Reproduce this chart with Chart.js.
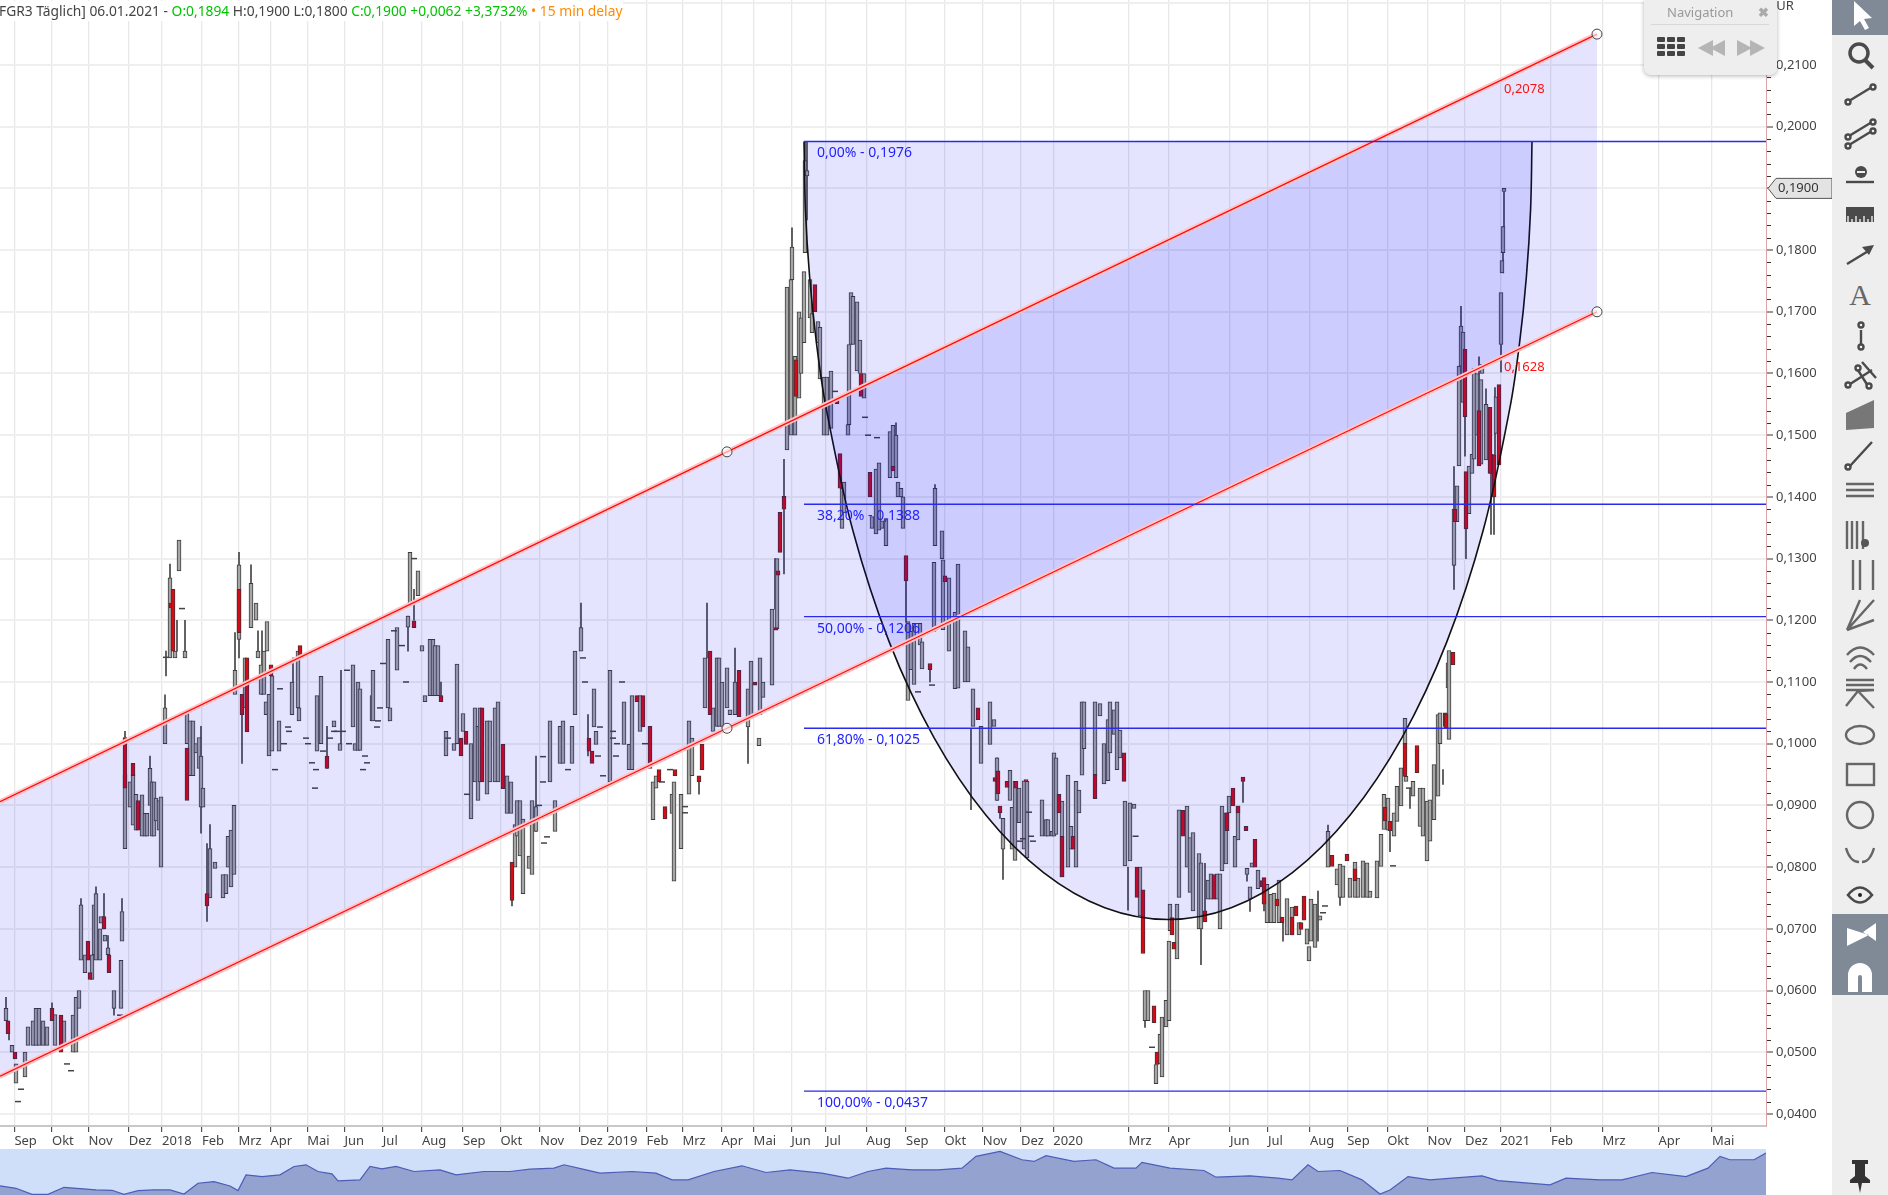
<!DOCTYPE html>
<html>
<head>
<meta charset="utf-8">
<title>FGR3 Täglich</title>
<script src="https://cdn.jsdelivr.net/npm/chart.js@4/dist/chart.umd.js"></script>
<style>
  html, body { margin: 0; padding: 0; background: #fff; overflow: hidden; width: 1888px; height: 1195px; }
  body { position: relative; font-family: "Noto Sans", sans-serif; }
  #mainChart { position: absolute; left: 0; top: 0; }
  #miniChart { position: absolute; left: 0; top: 1149px; }
  #header { position: absolute; left: -1px; top: 1px; height: 20px; line-height: 20px; padding-right: 1px; background: #fff; font-size: 13.8px; color: #444; white-space: pre; }
  #header .g { color: #00c400; }
  #header .o { color: #ff8c00; }
  #unit { position: absolute; left: 1769px; top: -5px; font-size: 13px; color: #444; line-height: 20px; }
  #nav { position: absolute; left: 1644px; top: 0; width: 133px; height: 75px; background: #eee; border-radius: 0 0 7px 7px; box-shadow: 0 1px 4px rgba(0,0,0,.3); }
  #nav .t { position: absolute; left: 23px; top: 3px; font-size: 13px; color: #999; }
  #nav .x { position: absolute; left: 114px; top: 3px; font-size: 13px; font-weight: bold; color: #aaa; }
  #nav hr { position: absolute; left: 7px; top: 24px; width: 118px; margin: 0; border: 0; border-top: 1px solid #d8d8d8; }
  #nav svg { position: absolute; left: 0; top: 30px; }
  #tools { position: absolute; left: 1832px; top: 0; }
</style>
</head>
<body>
<canvas id="mainChart" width="1832" height="1149"></canvas>
<canvas id="miniChart" width="1766" height="46"></canvas>
<div id="header">FGR3 Täglich] 06.01.2021 - <span class="g">O:0,1894</span> H:0,1900 L:0,1800 <span class="g">C:0,1900 +0,0062 +3,3732%</span> <span class="o">• 15 min delay</span></div>
<div id="unit">EUR</div>
<div id="nav">
  <div class="t">Navigation</div><div class="x">✖</div><hr>
  <svg width="133" height="40" fill="#444">
    <g><rect x="13" y="7" width="8" height="5" rx="1"/><rect x="23" y="7" width="8" height="5" rx="1"/><rect x="33" y="7" width="8" height="5" rx="1"/><rect x="13" y="14" width="8" height="5" rx="1"/><rect x="23" y="14" width="8" height="5" rx="1"/><rect x="33" y="14" width="8" height="5" rx="1"/><rect x="13" y="21" width="8" height="5" rx="1"/><rect x="23" y="21" width="8" height="5" rx="1"/><rect x="33" y="21" width="8" height="5" rx="1"/></g>
    <g fill="#b5b5b5"><path d="M54 18 L69 10 V26 Z"/><path d="M66 18 L81 10 V26 Z"/><path d="M93 10 L108 18 L93 26 Z"/><path d="M106 10 L121 18 L106 26 Z"/></g>
  </svg>
</div>
<svg id="tools" width="56" height="1195">
  <rect width="56" height="1195" fill="#eeeeee"/>
  <rect width="56" height="35" fill="#7f8a96"/>
  <rect y="914" width="56" height="81" fill="#7f8a96"/>
  <path d="M22 1 L22 26 L28 21 L33 30 L37 28 L32 19 L40 18 Z" fill="#fff"/>
  <g fill="none" stroke="#4a4a4a" stroke-width="2.4">
    <circle cx="27" cy="53" r="9" stroke-width="3.5"/><path d="M33 60 L41 68" stroke-width="4"/>
    <path d="M17 101 L40 87"/><circle cx="16" cy="102" r="2.5" fill="#eee"/><circle cx="41" cy="87" r="2.5" fill="#eee"/>
    <path d="M17 136 L40 122 M17 145 L40 131"/><circle cx="16" cy="137" r="2.5" fill="#eee"/><circle cx="41" cy="122" r="2.5" fill="#eee"/><circle cx="16" cy="146" r="2.5" fill="#eee"/><circle cx="41" cy="131" r="2.5" fill="#eee"/>
    <path d="M14 182 H42"/>
    <path d="M15 264 L38 250"/>
    <path d="M29 330 V345"/><circle cx="29" cy="325" r="2.5" fill="#eee"/><circle cx="29" cy="347" r="2.5" fill="#eee"/>
    <path d="M15 386 L40 370 M24 367 L36 386 M30 362 L44 378"/><circle cx="16" cy="385" r="2.5" fill="#eee"/><circle cx="37" cy="386" r="2.5" fill="#eee"/><circle cx="26" cy="368" r="2.5" fill="#eee"/>
    <path d="M18 466 L40 442"/><circle cx="16" cy="467" r="2.5" fill="#eee"/>
    <path d="M14 484 H42 M14 490 H42 M14 496 H42" stroke="#666"/>
    <path d="M15 521 V549 M20 521 V549 M25 521 V549 M31 521 V549" stroke="#666"/>
    <path d="M21 560 V590 M28 560 V590 M41 560 V590" stroke="#666"/>
    <path d="M15 630 L42 600 M15 630 L42 620 M15 630 L28 600" stroke="#666"/>
    <path d="M15 655 Q28 640 42 655 M18 662 Q28 650 39 662 M22 669 Q28 660 35 669" stroke="#666"/>
    <path d="M14 680 H42 M14 685 H42 M14 690 H42 M42 690 L26 691 L42 708 M26 691 L14 706" stroke="#666"/>
    <ellipse cx="28" cy="735" rx="14" ry="9" stroke="#666"/>
    <rect x="15" y="764" width="27" height="21" stroke="#666"/>
    <circle cx="28" cy="815" r="13" stroke="#666"/>
    <path d="M14 848 Q18 862 27 862 M42 848 Q38 862 30 862" stroke="#666"/>
    <path d="M16 895 Q28 880 40 895 Q28 910 16 895 Z" stroke-width="2.6"/>
  </g>
  <circle cx="29" cy="172" r="6" fill="#4a4a4a"/><rect x="25" y="171" width="8" height="2" fill="#eee"/>
  <path d="M14 207 H42 V222 H14 Z" fill="#4a4a4a"/>
  <path d="M16 222 V216 M20 222 V219 M24 222 V216 M28 222 V219 M32 222 V216 M36 222 V219 M40 222 V216" stroke="#eee" stroke-width="1.4"/>
  <path d="M30 247 L42 245 L37 255 Z" fill="#4a4a4a"/>
  <text x="28" y="305" text-anchor="middle" font-family="Liberation Serif" font-size="30" fill="#666">A</text>
  <path d="M14 413 L42 400 V428 L14 430 Z" fill="#777"/>
  <circle cx="33" cy="543" r="4" fill="#555"/><circle cx="28" cy="895" r="2" fill="#222"/>
  <path d="M15 928 V946 L37 935 Z M44 923 V941 L31 932 Z" fill="#fff" stroke="none"/>
  <path d="M16 992 V975 A12 12 0 0 1 40 975 V992 H30 V977 A2 2 0 0 0 26 977 V992 Z" fill="#fff"/>
  <path d="M20 1160 H36 V1164 H33 V1176 L38 1180 V1183 H30 L28 1193 L26 1183 H18 V1180 L23 1176 V1164 H20 Z" fill="#333"/>
</svg>

<script>
// month ticks, 1 unit on the time axis is one session slot of the chart
const monthLabels = ['Sep','Okt','Nov','Dez','2018','Feb','Mrz','Apr','Mai','Jun','Jul','Aug','Sep','Okt','Nov','Dez','2019','Feb','Mrz','Apr','Mai','Jun','Jul','Aug','Sep','Okt','Nov','Dez','2020','Mrz','Apr','Jun','Jul','Aug','Sep','Okt','Nov','Dez','2021','Feb','Mrz','Apr','Mai'];
const monthTicks = [7.2,26,44.2,64.4,81,101,119.2,135.2,153.6,172.2,191.4,211,231.5,250.2,270,290,303.8,323.2,341.2,360.7,376.8,395.6,413,433.3,453,472.2,491.4,510.5,526.6,564.2,584.4,615,634,655,673.6,693.6,713.8,732.5,750.2,775.5,801.2,829.2,856];

const priceTicks = [0.04,0.05,0.06,0.07,0.08,0.09,0.10,0.11,0.12,0.13,0.14,0.15,0.16,0.17,0.18,0.19,0.20,0.21,0.22];
const minorTicks = [0.042,0.044,0.046,0.048,0.052,0.054,0.056,0.058,0.062,0.064,0.066,0.068,0.072,0.074,0.076,0.078,0.082,0.084,0.086,0.088,0.092,0.094,0.096,0.098,0.102,0.104,0.106,0.108,0.112,0.114,0.116,0.118,0.122,0.124,0.126,0.128,0.132,0.134,0.136,0.138,0.142,0.144,0.146,0.148,0.152,0.154,0.156,0.158,0.162,0.164,0.166,0.168,0.172,0.174,0.176,0.178,0.182,0.184,0.186,0.188,0.192,0.194,0.196,0.198,0.202,0.204,0.206,0.208,0.212,0.214,0.216,0.218];
const lastPrice = 0.19;

// rising sessions
const upDay = [
3,6,8,12.5,14,16.5,18,19.5,21.5,23.5,
27.5,32,36.5,38,39.5,40.5,42.5,46,47,48,
50,50.5,52.5,54,57,60.5,61,62.5,65,66.5,
68,71,72.5,73.5,75,76,77,78,79.5,80.5,
82.5,85,87.5,89.5,92.5,93.5,95,96.5,98,99.5,
100.5,101.5,105,107.5,111.5,113,114,115.5,117,117.5,
119.5,122.5,125.5,128,129,130.5,132,133,133.5,134.5,
136,139.5,146,149,149.5,158.5,160.5,167,170,176.5,
177.5,179,180,186,186.5,194,195,198.5,204,205,
209,211,212.5,215,216.5,217.5,219,223,227,228.5,
231.5,235.5,237.5,239,240,243.5,245,247.5,249,253.5,
255.5,257.5,258.5,260,261.5,264.5,266,268,275,277.5,
280,281.5,286,287.5,290.5,297,298,305,312,314.5,
316,320,326.5,328,336,337,340.5,344.5,346,352.5,
356.5,358.5,359.5,361,363.5,365,367.5,374,375.5,379.5,
380,381.5,386,388.5,393.5,395.5,396,397.5,399.5,400.5,
402,402.5,403.5,405,406,409,410,412,413.5,415.5,
421,422,424,424.5,425.5,426.5,428.5,430,432,436,
438,439.5,441,443,445,446.5,448,449,450.5,451.5,
454,455.5,457,460,461,467,467.5,471,471.5,474.5,
477.5,479,482.5,484,486.5,490.5,495,497,498.5,501.5,
505,506,507.5,509.5,512,513.5,521,523,524,526,
527,528,531,534,535.5,538,539.5,541,542,547.5,
550,552,554,555,557,558.5,560,562.5,565,567,
570,572.5,574,578,580,581,583,584.5,585,588.5,
589.5,593.5,595,596.5,599.5,600.5,604,605.5,608.5,610,
611,613,614.5,617.5,619,623.5,625,626,629,633.5,
635.5,637,639.5,643.5,646,649.5,653.5,654.5,655.5,657.5,
660,664,668.5,670,671.5,675,677.5,679,681.5,683.5,
685,688.5,690.5,692,694,697,698.5,700.5,702.5,703,
706.5,710,711.5,713.5,715,717,719,720,724,724.5,
727,728.5,729.5,730.5,731.5,734.5,736,737,738.5,740.5,
741,743,745.5,748,750.5,751,751.5,752];
const upOpen = [
.0551,.05,.045,.046,.0511,.0511,.0511,.0511,.0511,.0511,
.0511,.0511,.05,.05,.0571,.0649,.0629,.0618,.0658,.0649,
.0649,.0709,.068,.0658,.0571,.0571,.068,.083,.0897,.0868,
.086,.085,.085,.085,.09,.085,.085,.0875,.086,.08,
.1,.1139,.1139,.128,.1139,.1,.0948,.0948,.0985,.096,
.0897,.0897,.075,.0798,.075,.0757,.08,.0768,.0788,.108,
.1169,.1058,.1188,.12,.1139,.108,.108,.1047,.115,.098,
.0988,.0988,.1047,.1058,.1037,.0988,.1,.1027,.0989,.1027,
.0989,.0989,.0989,.1037,.1037,.1058,.1037,.1119,.1189,.1228,
.124,.115,.1068,.1078,.1078,.1078,.1078,.098,.0989,.1,
.102,.0878,.0938,.0908,.0938,.0918,.0938,.0938,.0938,.0887,
.0887,.08,.085,.0818,.0757,.0798,.0788,.0858,.0938,.0858,
.0968,.0968,.0968,.1047,.115,.1027,.0999,.0938,.0999,.0958,
.0958,.102,.0877,.0928,.0887,.0777,.083,.0918,.0948,.1058,
.102,.1028,.1028,.1028,.1058,.1047,.1047,.1027,.1042,.0997,
.1047,.1075,.1095,.1186,.1476,.15,.1752,.15,.156,.16,
.165,.1796,.192,.169,.1666,.165,.1591,.15,.15,.1511,
.1349,.1374,.15,.1517,.1647,.1647,.1604,.16,.156,.1349,
.134,.1346,.1349,.1321,.1431,.1445,.1431,.14,.14,.1349,
.107,.112,.1096,.116,.1121,.1182,.1321,.13,.1185,.115,
.1089,.109,.11,.11,.1028,.0968,.0999,.1028,.0908,.0829,
.0908,.0829,.0811,.0872,.0829,.0815,.085,.085,.085,.085,
.085,.0853,.0784,.08,.0829,.08,.0888,.0949,.0992,.095,
.1045,.0935,.094,.0985,.1015,.0958,.0977,.0802,.081,.0895,
.0721,.0551,.0551,.0449,.0481,.046,.0541,.0551,.0697,.0651,
.0751,.08,.0759,.0729,.07,.07,.0748,.0748,.0748,.07,
.0794,.0805,.0888,.08,.0844,.0788,.0748,.08,.0765,.071,
.071,.071,.071,.069,.069,.069,.0675,.0648,.068,.067,
.0714,.08,.0771,.0751,.0751,.0751,.0751,.0751,.0751,.0751,
.0751,.075,.0801,.0861,.086,.085,.0874,.0899,.1,.0939,
.0915,.0866,.085,.081,.0842,.0877,.0915,.1,.1091,.1007,
.1289,.136,.145,.1612,.1553,.1373,.1438,.1461,.15,.1453,
.16,.146,.1438,.1503,.1647,.1763,.1796,.1895];
const upClose = [
.0571,.0511,.0481,.05,.0541,.0551,.0571,.0571,.0551,.0541,
.0561,.0551,.056,.0589,.06,.0739,.0658,.0658,.0739,.0757,
.07,.072,.069,.0669,.06,.0649,.0728,.095,.0938,.095,
.0918,.0917,.0887,.0887,.096,.0938,.0938,.0912,.0908,.0914,
.1058,.1269,.115,.133,.115,.1049,.1037,.1037,.1,.101,
.098,.0928,.083,.0808,.0788,.0788,.085,.086,.09,.1119,
.129,.1139,.126,.1228,.115,.1128,.115,.1068,.1198,.108,
.111,.1037,.11,.115,.1058,.1078,.1109,.1037,.1,.1128,
.1,.11,.1089,.1078,.1119,.1169,.1058,.1188,.1207,.131,
.128,.1159,.1078,.1169,.1169,.1159,.1159,.102,.1,.1129,
.1049,.1,.1058,.1028,.1058,.1037,.1037,.1058,.1068,.0948,
.0938,.0869,.0908,.0908,.0878,.0818,.0908,.0898,.1037,.0908,
.1028,.1037,.1028,.115,.1188,.1089,.102,.1119,.1068,.0999,
.1078,.1078,.0938,.0948,.0918,.0938,.0918,.1037,.1009,.1139,
.1058,.1139,.1139,.11,.1123,.1055,.11,.1089,.1134,.1009,
.1139,.11,.1218,.13,.174,.1752,.1805,.1628,.17,.169,
.1765,.1945,.1929,.1752,.1697,.1684,.1675,.1594,.1594,.1604,
.1414,.1424,.1517,.1647,.1731,.1725,.1716,.1654,.16,.1368,
.1445,.1455,.1361,.1365,.1506,.1516,.15,.1424,.1414,.14,
.1198,.1182,.1195,.1195,.1165,.1294,.1414,.1345,.1298,.1269,
.1213,.1291,.1183,.1157,.1089,.1028,.1068,.1039,.0977,.0879,
.0957,.0897,.0939,.0928,.094,.0939,.0909,.0877,.0877,.0858,
.0985,.0977,.0907,.0949,.0866,.0939,.0925,.1068,.1068,.1068,
.1065,.1,.1039,.1068,.1055,.1068,.1022,.0907,.0904,.0902,
.08,.06,.06,.048,.0529,.0557,.0584,.068,.074,.074,
.0893,.0899,.0848,.0856,.0822,.0807,.0779,.0789,.0789,.0789,
.0899,.0888,.0915,.085,.0899,.0798,.0768,.0807,.0795,.0772,
.0756,.0758,.0779,.0749,.0735,.071,.07,.0671,.0748,.074,
.0721,.0858,.0797,.0805,.0802,.0782,.0808,.0782,.081,.0807,
.0761,.081,.0853,.0918,.0912,.0888,.0931,.0961,.1041,.0947,
.0939,.0928,.0928,.0907,.0909,.0966,.1047,.105,.1131,.1151,
.138,.1418,.1612,.1677,.1667,.145,.1469,.1608,.16,.159,
.1615,.155,.1469,.1562,.1731,.1783,.1838,.19];

// falling sessions
const downDay = [
4,7.5,26,30.5,44,45,52,54.5,62.5,66.5,
69,85.5,86.5,93.5,103.5,119.5,121,123.5,135.5,150,
163.5,207,220.5,230.5,233,241,251.5,256,294.5,296,
318.5,321.5,325,329.5,332.5,337.5,349.5,351,355,369.5,
377.5,388,389,390,392,398,407.5,418.5,420,430.5,
435,446.5,453,465,472.5,489,497.5,499,500,503.5,
508,513,529.5,531,536.5,547.5,562,568.5,571.5,577,
578.5,586,587,591.5,602.5,607,613.5,616.5,619,621.5,
623,627.5,631,632,638.5,641,646,648,650.5,652,
666,673.5,677.5,692.5,695,702.5,708.5,722.5,723,726.5,
727.5,732.5,733,739.5,745,747,749.5];
const downOpen = [
.0551,.05,.0571,.056,.068,.0629,.072,.0658,.101,.0968,
.0908,.1228,.125,.0993,.0757,.125,.108,.1139,.1128,.1159,
.098,.1199,.1078,.1009,.102,.1058,.0999,.0808,.1009,.0988,
.1078,.1078,.1028,.0958,.0898,.0958,.0948,.0999,.115,.1119,
.11,.1188,.128,.1375,.1401,.1622,.1744,.156,.147,.16,
.144,.145,.1305,.113,.1272,.1058,.0945,.0956,.0899,.0939,
.0939,.0942,.0918,.085,.085,.095,.0985,.08,.0763,.0575,
.05,.0718,.0678,.0892,.0729,.0788,.0888,.0928,.0899,.0946,
.0866,.0845,.0778,.0783,.0748,.0719,.0719,.0737,.071,.0753,
.0819,.0821,.0797,.0897,.0874,.1,.0997,.105,.1048,.1148,
.138,.1639,.1441,.154,.1545,.1468,.1582];
const downClose = [
.053,.0489,.0551,.05,.0649,.0618,.07,.0629,.0928,.0948,
.086,.122,.115,.0908,.0737,.118,.1047,.1019,.111,.1139,
.096,.1188,.1068,.098,.0999,.0938,.0927,.0746,.0988,.0968,
.1068,.1027,.096,.0938,.0878,.0948,.0938,.0958,.1047,.1044,
.1095,.1184,.1273,.131,.138,.1563,.17,.1551,.1414,.1563,
.14,.1442,.1264,.112,.1262,.1039,.0939,.0919,.0888,.0929,
.0928,.0939,.0888,.0784,.0829,.0911,.0939,.0751,.066,.0548,
.048,.069,.0667,.085,.0711,.0748,.0859,.0899,.0888,.0939,
.0859,.08,.0768,.074,.0737,.071,.069,.0721,.0699,.0714,
.0801,.081,.0778,.0875,.0859,.0947,.0953,.1028,.1026,.1128,
.136,.153,.1348,.145,.1438,.14,.1452];

// high-low lines
const wickDay = [
3,4.5,26,40.5,48,52,54,57,61,62.5,
75,82.5,83,85,88.5,92.5,100.5,103.5,105,117.5,
119.5,121,125.5,129,131,146.5,163.5,170.5,194.5,204,
207,220.5,256,268,290.5,294,349.5,353.5,367.5,374,
387.5,392,396,402.5,403.5,448,453,465,467.5,485.5,
498.5,500,501.5,564,572.5,600.5,602.5,621.5,623.5,625,
632,641.5,659,664,670,695,705,721.5,727,730.5,
732.5,733,739.5,743,745.5,747,747.5,750.5,751.5,752];
const wickHigh = [
.0589,.053,.058,.0749,.0768,.0757,.0689,.0571,.0749,.102,
.098,.1079,.115,.1291,.12,.12,.1028,.0838,.0869,.118,
.131,.1047,.129,.1183,.1183,.1139,.1028,.1119,.1139,.1207,
.125,.11,.0746,.098,.1228,.1047,.0938,.1228,.1155,.1027,
.13,.1461,.1836,.1976,.1976,.152,.1264,.112,.142,.1025,
.0977,.0888,.0829,.08,.0551,.07,.0806,.0939,.0788,.0748,
.074,.071,.0761,.0868,.0751,.0859,.0928,.0958,.1449,.1709,
.153,.1348,.1627,.1575,.1438,.1468,.1577,.1647,.1838,.1895];
const wickLow = [
.0551,.052,.0571,.0739,.0757,.07,.0669,.056,.0728,.101,
.096,.1058,.111,.1269,.115,.115,.0855,.0712,.083,.1119,
.1139,.0968,.126,.115,.108,.108,.096,.1,.1037,.115,
.12,.1068,.0737,.0858,.1188,.098,.0918,.1139,.11,.0968,
.1218,.1275,.1805,.1945,.1849,.15,.1197,.11,.1414,.0893,
.0908,.0879,.078,.073,.054,.0642,.0729,.0905,.0777,.0728,
.0729,.068,.068,.0858,.0738,.0825,.0895,.0934,.125,.1677,
.1466,.13,.154,.155,.1339,.1339,.1468,.1602,.1763,.1838];

// sessions without range
const flatDay = [
9,10.5,33.5,35.5,58.5,60,83,91,137.5,140,
142,144,144.5,153,154,156,157.5,158,161.5,165,
167,168.5,171.5,173.5,174.5,181.5,182.5,183.5,188.5,189,
190,191.5,197,201,203,207,224,233.5,269.5,271.5,
271.5,272,273.5,284,291.5,292.5,299,300,301.5,306.5,
306.5,308,308.5,311,322.5,331,335,342.5,342.5,417.5,
432.5,434,438.5,459,466,510,511.5,514.5,515.5,516.5,
567.8,576,661.5,662.5,696.5,704.5];
const flatPrice = [
.042,.044,.0481,.047,.0551,.056,.114,.1219,.0958,.1089,
.1,.1027,.102,.1009,.1,.0969,.0928,.0958,.0988,.1009,
.102,.102,.102,.1119,.1,.0958,.098,.0969,.1027,.1037,
.1058,.113,.1183,.1159,.11,.13,.1009,.0918,.09,.0979,
.0938,.0839,.0849,.0958,.1139,.11,.098,.1027,.0948,.102,
.1009,.098,.1,.11,.1,.0938,.0958,.0898,.0888,.1571,
.1529,.15,.1496,.1084,.1095,.0842,.0846,.0889,.085,.0842,
.085,.0508,.0726,.0737,.0802,.0928];

// drawn channel, read at its left edge, its two inner anchors and its right end
const channelDay = [0,363.5,798.5];
const channelUpper = [.0906,.1473,.215];
const channelLower = [.0461,.1025,.17];
const channelLabelDay = 752;
const channelLabels = ['0,2078','0,1628'];
const channelLabelPrice = [.2078,.1628];

// retracement levels
const fibStart = 402;
const fibEnd = 883;
const fibLevels = [.1976,.1388,.1206,.1025,.0437];
const fibLabels = ['0,00% - 0,1976','38,20% - 0,1388','50,00% - 0,1206','61,80% - 0,1025','100,00% - 0,0437'];

// drawn arc below the 0% level
const arcDay = [402,402.7,404.8,408.2,413,426.4,444.6,467,493,521.8,552.4,584,615.6,646.2,675,701,723.4,741.6,755,759.8,763.2,765.3,766];
const arcPrice = [.1976,.1866,.1757,.165,.1545,.1346,.1165,.101,.0884,.0791,.0734,.0715,.0734,.0791,.0884,.101,.1165,.1346,.1545,.165,.1757,.1866,.1976];

// overview strip
const miniDay = [0,8,16,24,32,40,48,56,62,69,77,85,92,99,107,115,119,123,131,140,147,153,159,166,169,180,185,191,198,207,220,228,242,255,265,277,282,293,300,316,328,336,344,357,371,383,395,411,424,434,443,456,469,481,488,500,511,517,523,537,548,557,568,571,585,602,608,625,639,646,654,659,670,681,690,695,704,715,726,741,749,775,783,800,811,826,843,854,860,865,877,883];
const miniValue = [27,20,2,2,23,19,15,14,2,13,15,15,3,35,40,27,13,60,55,60,85,90,70,63,42,45,85,78,85,70,75,60,70,70,77,80,90,75,65,70,65,45,45,70,87,67,75,65,50,70,80,75,75,80,115,130,105,100,117,100,105,80,80,97,80,73,53,57,50,45,90,70,73,45,3,15,55,45,50,57,43,30,50,45,45,67,55,80,115,105,105,125];

const fontName = '"Noto Sans", sans-serif';
const blueShade = 'rgba(0,0,255,0.105)';

function xy(xs, ys) {
    return xs.map((x, i) => ({ x: x, y: ys[i] }));
}

function bars(xs, from, to) {
    return xs.map((x, i) => ({ x: x, y: [from[i], to[i]] }));
}

function lineSet(data, color, width, order, extra) {
    return Object.assign({
        type: 'line', data: data, borderColor: color, borderWidth: width, order: order,
        pointRadius: 0, fill: false, tension: 0, backgroundColor: 'transparent'
    }, extra || {});
}

// no room kept for half labels, the plot runs up to the canvas edges
function noScalePadding(scale) {
    scale.paddingLeft = 0;
    scale.paddingRight = 0;
    scale.paddingTop = 0;
    scale.paddingBottom = 0;
}

const datasets = [
    { type: 'bar', data: bars(wickDay, wickLow, wickHigh), backgroundColor: '#444', barThickness: 1, order: 10, grouped: false },
    { type: 'bar', data: bars(upDay, upOpen, upClose), backgroundColor: '#a6a6a6', borderColor: '#3c3c3c', borderWidth: 1, borderSkipped: false, barThickness: 4, order: 9, grouped: false },
    { type: 'bar', data: bars(downDay, downOpen, downClose), backgroundColor: '#d80b14', borderColor: '#4c2c34', borderWidth: 1, borderSkipped: false, barThickness: 4, order: 8, grouped: false },
    lineSet(xy(flatDay, flatPrice), 'transparent', 0, 8, { showLine: false, pointStyle: 'line', pointRadius: 3, pointBorderColor: '#444', pointBorderWidth: 1.5 }),
    lineSet(xy(channelDay, channelLower), '#ffc4c8', 5, 4),
    lineSet(xy(channelDay, channelUpper), '#ffc4c8', 5, 4),
];
// channel shading goes between the two channel lines
datasets[5].fill = { target: 4 };
datasets[5].backgroundColor = blueShade;
datasets.push(lineSet(xy(channelDay, channelLower), '#ff0a0a', 1.2, 3));
datasets.push(lineSet(xy(channelDay, channelUpper), '#ff0a0a', 1.2, 3));
datasets.push(lineSet(xy(arcDay, arcPrice), '#111', 1.6, 5, { fill: { value: fibLevels[0] }, backgroundColor: blueShade, tension: 0.35 }));
fibLevels.forEach(level => {
    datasets.push(lineSet(xy([fibStart, fibEnd], [level, level]), '#2a2aee', 1.4, 2));
});
datasets.push(lineSet(xy(channelDay.slice(1).concat(channelDay.slice(1)), channelUpper.slice(1).concat(channelLower.slice(1))), 'transparent', 0, 0,
    { showLine: false, pointRadius: 5, pointBackgroundColor: 'rgba(255,255,255,0.6)', pointBorderColor: '#444', pointBorderWidth: 1 }));

// texts on the price area, minor axis ticks and the last price marker
const chartNotes = {
    id: 'chartNotes',
    afterDraw(chart) {
        const ctx = chart.ctx;
        const x = chart.scales.x;
        const y = chart.scales.y;
        ctx.save();
        ctx.font = '14px ' + fontName;
        ctx.textBaseline = 'middle';
        ctx.textAlign = 'left';
        ctx.fillStyle = '#2222ff';
        fibLevels.forEach((level, i) => {
            ctx.fillText(fibLabels[i], x.getPixelForValue(fibStart) + 13, y.getPixelForValue(level) + 12);
        });
        ctx.font = '13px ' + fontName;
        ctx.fillStyle = '#ff1010';
        channelLabels.forEach((text, i) => {
            ctx.fillText(text, x.getPixelForValue(channelLabelDay), y.getPixelForValue(channelLabelPrice[i]) + 11);
        });

        ctx.strokeStyle = '#333';
        ctx.lineWidth = 1;
        minorTicks.forEach(v => {
            const py = Math.round(y.getPixelForValue(v)) + 0.5;
            ctx.beginPath();
            ctx.moveTo(x.right + 1, py);
            ctx.lineTo(x.right + 5, py);
            ctx.stroke();
        });

        const tagY = y.getPixelForValue(lastPrice);
        ctx.beginPath();
        ctx.moveTo(x.right + 2, tagY);
        ctx.lineTo(x.right + 10, tagY - 10);
        ctx.lineTo(chart.width, tagY - 10);
        ctx.lineTo(chart.width, tagY + 10);
        ctx.lineTo(x.right + 10, tagY + 10);
        ctx.closePath();
        ctx.fillStyle = '#e3e3e3';
        ctx.fill();
        ctx.strokeStyle = '#555';
        ctx.stroke();
        ctx.fillStyle = '#333';
        ctx.fillText(lastPrice.toFixed(4).replace('.', ','), x.right + 12, tagY);
        ctx.restore();
    }
};

new Chart(document.getElementById('mainChart'), {
    type: 'bar',
    data: { datasets: datasets },
    plugins: [chartNotes],
    options: {
        responsive: false,
        animation: false,
        events: [],
        layout: { padding: 0, autoPadding: false },
        plugins: { legend: { display: false }, tooltip: { enabled: false }, title: { display: false } },
        scales: {
            x: {
                type: 'linear', min: 0, max: 883, offset: false,
                afterBuildTicks: s => { s.ticks = monthTicks.map(v => ({ value: v })); },
                afterFit: s => { s.height = 23; noScalePadding(s); },
                grid: { offset: false, color: '#e8e8e8', lineWidth: 1.3, tickColor: '#333', tickWidth: 1, tickLength: 6 },
                border: { color: '#c8c8c8', width: 2 },
                ticks: { autoSkip: false, maxRotation: 0, align: 'start', padding: 1, color: '#444', font: { family: fontName, size: 13 }, callback: (v, i) => monthLabels[i] }
            },
            y: {
                type: 'linear', position: 'right', min: 0.03804, max: 0.22053,
                afterBuildTicks: s => { s.ticks = priceTicks.map(v => ({ value: v })); },
                afterFit: s => { s.width = 66; noScalePadding(s); },
                grid: { color: '#efefef', lineWidth: 2, tickColor: '#333', tickWidth: 1, tickLength: 7 },
                border: { color: '#dda5a5', width: 1 },
                ticks: { autoSkip: false, padding: 3, color: '#444', font: { family: fontName, size: 13 }, callback: v => v > 0.215 ? '' : v.toFixed(4).replace('.', ',') }
            }
        }
    }
});

new Chart(document.getElementById('miniChart'), {
    type: 'line',
    data: { datasets: [{ data: xy(miniDay, miniValue), borderColor: '#4c5cb8', borderWidth: 1.2, backgroundColor: '#93a2cf', fill: 'start', pointRadius: 0, tension: 0 }] },
    plugins: [{
        id: 'miniBack',
        beforeDraw(chart) {
            chart.ctx.fillStyle = '#cfdffa';
            chart.ctx.fillRect(0, 0, chart.width, chart.height);
        }
    }],
    options: {
        responsive: false,
        animation: false,
        events: [],
        layout: { padding: 0, autoPadding: false },
        plugins: { legend: { display: false }, tooltip: { enabled: false } },
        scales: {
            x: { type: 'linear', min: 0, max: 883, display: false },
            y: { type: 'linear', min: 0, max: 137, display: false }
        }
    }
});
</script>
</body>
</html>
